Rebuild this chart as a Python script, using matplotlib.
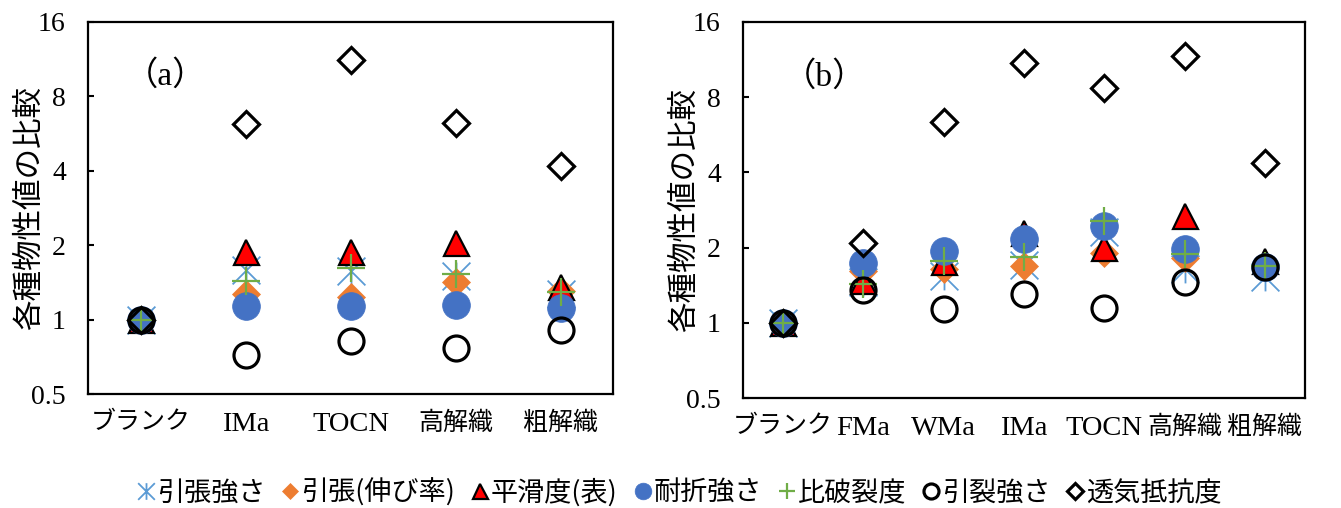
import numpy as np
import matplotlib
matplotlib.use('Agg')
import matplotlib.pyplot as plt
from matplotlib.path import Path

# relative property values (blank = 1), log2 axis
cats_a = ['ブランク', 'IMa', 'TOCN', '高解織', '粗解織']
cats_b = ['ブランク', 'FMa', 'WMa', 'IMa', 'TOCN', '高解織', '粗解織']

names = ['引張強さ', '引張(伸び率)', '平滑度(表)', '耐折強さ', '比破裂度', '引裂強さ', '透気抵抗度']

tensile_a = [1, 1.59, 1.58, 1.50, 1.27]
stretch_a = [1, 1.27, 1.23, 1.42, 1.30]
smooth_a = [1, 1.88, 1.88, 2.04, 1.36]
fold_a = [1, 1.13, 1.14, 1.15, 1.11]
burst_a = [1, 1.43, 1.61, 1.53, 1.29]
tear_a = [1, 0.72, 0.82, 0.77, 0.91]
air_a = [1, 6.2, 11.2, 6.25, 4.18]

tensile_b = [1, 1.45, 1.54, 1.71, 2.30, 1.64, 1.52]
stretch_b = [1, 1.61, 1.64, 1.69, 1.90, 1.82, 1.70]
smooth_b = [1, 1.47, 1.75, 2.28, 2.00, 2.68, 1.77]
fold_b = [1, 1.74, 1.94, 2.17, 2.44, 1.98, 1.67]
burst_b = [1, 1.43, 1.76, 1.83, 2.56, 1.88, 1.69]
tear_b = [1, 1.35, 1.14, 1.30, 1.15, 1.46, 1.67]
air_b = [1, 2.09, 6.35, 10.97, 8.71, 11.65, 4.37]

yticks = [0.5, 1, 2, 4, 8, 16]

serif = ['Liberation Serif', 'Noto Sans CJK JP']
gothic = ['Noto Sans CJK JP', 'DejaVu Sans']

# asterisk marker: X with a vertical bar
star = Path([(-1, -1), (1, 1), (-1, 1), (1, -1), (0, -1), (0, 1)],
            [Path.MOVETO, Path.LINETO, Path.MOVETO, Path.LINETO, Path.MOVETO, Path.LINETO])

styles = [
    dict(marker=star, ms=20, mfc='none', mec='#5B9BD5', mew=1.3),
    dict(marker='D', ms=14, mfc='#ED7D31', mec='#ED7D31', mew=0.5),
    dict(marker='^', ms=18, mfc='#FF0000', mec='black', mew=1.6),
    dict(marker='o', ms=20, mfc='#4472C4', mec='#4472C4', mew=0.5),
    dict(marker='+', ms=20, mfc='none', mec='#70AD47', mew=1.6),
    dict(marker='o', ms=18, mfc='none', mec='black', mew=2.3),
    dict(marker='D', ms=13.5, mfc='none', mec='black', mew=2.3),
]

fig = plt.figure(figsize=(13.41, 5.08), dpi=100)
ax_a = fig.add_axes([88/1341, 114/508, 525/1341, 372/508])
ax_b = fig.add_axes([743/1341, 110/508, 562/1341, 376/508])


def panel(ax, cats, series, tag, label_x):
    x = np.arange(1, len(cats) + 1)
    lines = []
    for vals, st, nm in zip(series, styles, names):
        ln, = ax.plot(x, vals, linestyle='none', label=nm, **st)
        lines.append(ln)
    ax.set_yscale('log', base=2)
    ax.set_ylim(0.5, 16)
    ax.set_xlim(0.5, len(cats) + 0.5)
    ax.set_yticks(yticks)
    ax.set_yticklabels(['0.5', '1', '2', '4', '8', '16'], family=serif, fontsize=20)
    ax.minorticks_off()
    ax.set_xticks(x)
    ax.set_xticklabels(cats, family=serif, fontsize=20.5)
    # kanji / kana labels a little smaller than the latin ones
    for t in ax.get_xticklabels():
        if not t.get_text().isascii():
            t.set_fontsize(18)
    ax.tick_params(axis='x', length=0, pad=13)
    ax.tick_params(axis='y', direction='in', length=4, width=1.5, pad=16)
    for s in ax.spines.values():
        s.set_linewidth(1.6)
        s.set_color('black')
    ax.text(0.07, 0.855, tag, transform=ax.transAxes, family=serif, fontsize=24,
            va='center', ha='left')
    ax.set_ylabel('各種物性値の比較', family=gothic, fontsize=22)
    ax.yaxis.set_label_coords(label_x, 0.5)
    return lines


handles = panel(ax_a, cats_a, [tensile_a, stretch_a, smooth_a, fold_a, burst_a, tear_a, air_a],
                '（a）', -0.082)
panel(ax_b, cats_b, [tensile_b, stretch_b, smooth_b, fold_b, burst_b, tear_b, air_b],
      '（b）', -0.077)

fig.legend(handles=handles, loc='center', bbox_to_anchor=(0.507, 0.03), ncol=7,
           frameon=False, markerscale=0.6, handlelength=0.6, handletextpad=0.1,
           columnspacing=0.62, prop={'family': gothic, 'size': 19.5})

fig.savefig('out.png', dpi=100)
